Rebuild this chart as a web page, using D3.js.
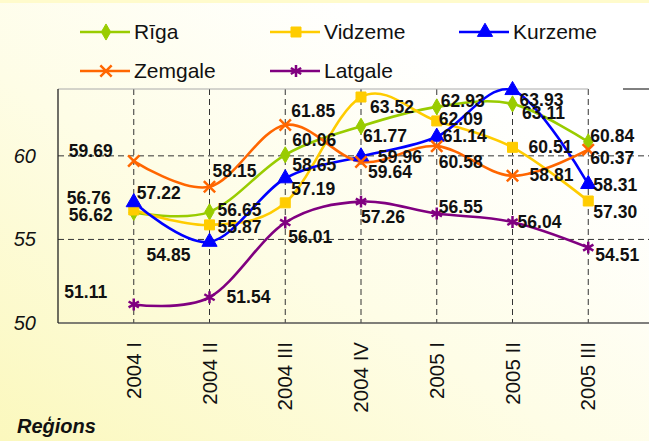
<!DOCTYPE html>
<html>
<head>
<meta charset="utf-8">
<script src="https://cdn.jsdelivr.net/npm/d3@7"></script>
<style>
  body { margin: 0; padding: 0; }
  svg { display: block; font-family: "Liberation Sans", Arial, sans-serif; }
</style>
</head>
<body>
<svg id="chart" width="649" height="441"></svg>
<script>
// chart data
const categories = ["2004 I", "2004 II", "2004 III", "2004 IV", "2005 I", "2005 II", "2005 III"];
const seriesNames = ["Rīga", "Vidzeme", "Kurzeme", "Zemgale", "Latgale"];
const riga    = [56.62, 56.65, 60.06, 61.77, 62.93, 63.11, 60.84];
const vidzeme = [56.76, 55.87, 57.19, 63.52, 62.09, 60.51, 57.30];
const kurzeme = [57.22, 54.85, 58.65, 59.96, 61.14, 63.93, 58.31];
const zemgale = [59.69, 58.15, 61.85, 59.64, 60.58, 58.81, 60.37];
const latgale = [51.11, 51.54, 56.01, 57.26, 56.55, 56.04, 54.51];
const yTicks = [50, 55, 60];
const axisTitle = "Reģions";

// look of each series
const colors  = ["#99cc00", "#ffcc00", "#0000ff", "#ff6600", "#800080"];
const symbols = [d3.symbolDiamond, d3.symbolSquare, d3.symbolTriangle, d3.symbolX, d3.symbolAsterisk];
const symSize = [75, 100, 100, 85, 100];
const filled  = [true, true, true, false, false];

// where each value label sits relative to its point (dx, dy)
const labelOffsets = [
  [[-43, 3], [30, -2], [29, -15], [24, 10], [26, -6], [31, 9], [24, -6]],
  [[-45, -12], [30, 2], [28, -14], [31, 10], [24, -2], [38, 0], [27, 11]],
  [[25, -9], [-41, 13], [29, -14], [39, 0], [28, -1], [29, 10], [27, 1]],
  [[-43, -10], [25, -16], [28, -14], [29, 10], [24, 16], [39, -1], [24, 8]],
  [[-48, -13], [39, 0], [25, 14], [22, 15], [24, -7], [27, 0], [29, 7]]
];

const values = [riga, vidzeme, kurzeme, zemgale, latgale];
const series = seriesNames.map((name, i) => ({ name: name, values: values[i], i: i }));

const svg = d3.select("#chart");
const W = 649, H = 441;
const plot = { left: 58, right: 664, top: 89, bottom: 323 };

// background gradient, yellow at bottom left fading to white
const defs = svg.append("defs");
const grad = defs.append("linearGradient")
  .attr("id", "bg").attr("x1", "0").attr("y1", "1").attr("x2", "0.75").attr("y2", "0.2");
grad.append("stop").attr("offset", "0").attr("stop-color", "#fbf8bd");
grad.append("stop").attr("offset", "0.55").attr("stop-color", "#fefde6");
grad.append("stop").attr("offset", "1").attr("stop-color", "#ffffff");
svg.append("rect").attr("width", W).attr("height", H).attr("fill", "url(#bg)");
svg.append("rect").attr("width", W).attr("height", 3).attr("fill", "#fffbcc");

const x = d3.scalePoint().domain(categories).range([plot.left, plot.right]).padding(1);
const y = d3.scaleLinear().domain([50, 64]).range([plot.bottom, plot.top]);

// gridlines
const grid = svg.append("g");
grid.selectAll(".hgrid").data(yTicks.filter(d => d > 50)).enter().append("line")
  .attr("x1", plot.left).attr("x2", W)
  .attr("y1", d => y(d)).attr("y2", d => y(d))
  .attr("stroke", "#333").attr("stroke-width", 1).attr("stroke-dasharray", "6,4");
grid.selectAll(".vgrid").data(categories).enter().append("line")
  .attr("x1", d => x(d)).attr("x2", d => x(d))
  .attr("y1", plot.top).attr("y2", plot.bottom)
  .attr("stroke", "#333").attr("stroke-width", 1).attr("stroke-dasharray", "6,4");

// plot frame
svg.append("line").attr("x1", plot.left).attr("x2", x(categories[6])).attr("y1", plot.top).attr("y2", plot.top)
  .attr("stroke", "#aaa").attr("stroke-width", 1);
svg.append("line").attr("x1", 623).attr("x2", W).attr("y1", plot.top).attr("y2", plot.top)
  .attr("stroke", "#000").attr("stroke-width", 1);
svg.append("line").attr("x1", plot.left).attr("x2", W).attr("y1", plot.bottom).attr("y2", plot.bottom)
  .attr("stroke", "#555").attr("stroke-width", 1.3);
svg.append("line").attr("x1", plot.left).attr("x2", plot.left).attr("y1", plot.top).attr("y2", plot.bottom)
  .attr("stroke", "#222").attr("stroke-width", 1.3);

// y axis labels
svg.selectAll(".ytick").data(yTicks).enter().append("text")
  .attr("x", 36).attr("y", d => y(d)).attr("dy", "0.35em")
  .attr("text-anchor", "end").attr("font-size", 20).attr("font-style", "italic")
  .attr("fill", "#111").text(d => d);

// x axis labels, rotated
svg.selectAll(".xtick").data(categories).enter().append("text")
  .attr("transform", d => `translate(${x(d)},342) rotate(-90)`)
  .attr("dy", "0.35em").attr("text-anchor", "end").attr("font-size", 20.5)
  .attr("fill", "#111").text(d => d);

svg.append("text").attr("x", 17).attr("y", 433)
  .attr("font-size", 20).attr("font-weight", "bold").attr("font-style", "italic")
  .attr("fill", "#111").text(axisTitle);

// lines
const line = d3.line()
  .x((d, j) => x(categories[j]))
  .y(d => y(d))
  .curve(d3.curveCardinal.tension(0));

svg.selectAll(".series").data(series).enter().append("path")
  .attr("d", d => line(d.values))
  .attr("fill", "none").attr("stroke", d => colors[d.i]).attr("stroke-width", 2.6);

// markers
function drawMarker(g, i) {
  g.append("path")
    .attr("d", d3.symbol().type(symbols[i]).size(symSize[i])())
    .attr("fill", filled[i] ? colors[i] : "none")
    .attr("stroke", colors[i])
    .attr("stroke-width", filled[i] ? 1 : 2.5);
}
series.forEach(s => {
  s.values.forEach((v, j) => {
    const g = svg.append("g").attr("transform", `translate(${x(categories[j])},${y(v)})`);
    drawMarker(g, s.i);
  });
});

// value labels
series.forEach(s => {
  svg.append("g").selectAll("text").data(s.values).enter().append("text")
    .attr("x", (v, j) => x(categories[j]) + labelOffsets[s.i][j][0])
    .attr("y", (v, j) => y(v) + labelOffsets[s.i][j][1])
    .attr("dy", "0.35em").attr("text-anchor", "middle")
    .attr("font-size", 17.5).attr("font-weight", "bold").attr("fill", "#111")
    .text(v => v.toFixed(2));
});

// legend
const legendPos = [[80, 32], [270, 32], [459, 32], [80, 71], [270, 71]];
series.forEach(s => {
  const [lx, ly] = legendPos[s.i];
  const g = svg.append("g").attr("transform", `translate(${lx},${ly})`);
  g.append("line").attr("x1", 0).attr("x2", 50).attr("y1", 0).attr("y2", 0)
    .attr("stroke", colors[s.i]).attr("stroke-width", 2.6);
  const m = g.append("g").attr("transform", "translate(26,0)");
  drawMarker(m, s.i);
  g.append("text").attr("x", 54).attr("y", 0).attr("dy", "0.35em")
    .attr("font-size", 21).attr("fill", "#111").text(s.name);
});
</script>
</body>
</html>
